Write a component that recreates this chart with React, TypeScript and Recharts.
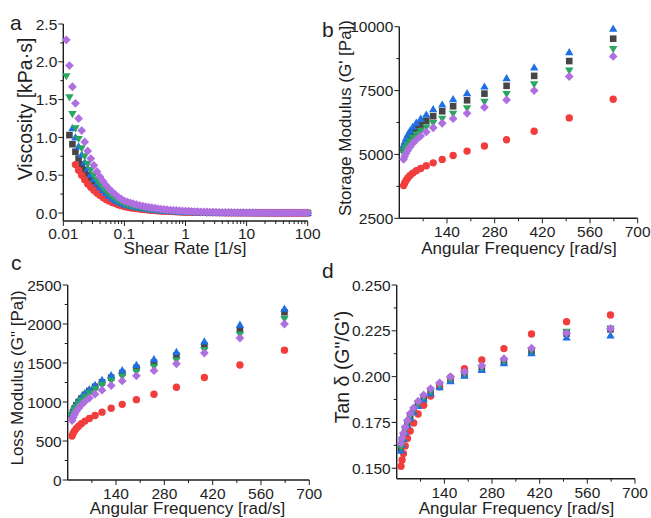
import React from 'react';
import { ScatterChart, Scatter, XAxis, YAxis } from 'recharts';

const W = 651;
const H = 518;
const FONT = '"Liberation Sans", Arial, sans-serif';
const INK = '#1e1e1e';

// ---- panel a: viscosity vs shear rate ----
const shearRate = [
  0.0112, 0.0126, 0.0141, 0.0158, 0.0178, 0.02, 0.0224, 0.0251, 0.0282, 0.0316, 0.0355, 0.0398, 0.0447, 0.0501, 0.0562, 0.0631, 0.0708, 0.0794, 0.0891, 0.1,
  0.112, 0.126, 0.141, 0.158, 0.178, 0.2, 0.224, 0.251, 0.282, 0.316, 0.355, 0.398, 0.447, 0.501, 0.562, 0.631, 0.708, 0.794, 0.891, 1,
  1.12, 1.26, 1.41, 1.58, 1.78, 2, 2.24, 2.51, 2.82, 3.16, 3.55, 3.98, 4.47, 5.01, 5.62, 6.31, 7.08, 7.94, 8.91, 10,
  11.2, 12.6, 14.1, 15.8, 17.8, 20, 22.4, 25.1, 28.2, 31.6, 35.5, 39.8, 44.7, 50.1, 56.2, 63.1, 70.8, 79.4, 89.1, 100,
];
const viscPurple = [
  2.29, 1.95, 1.67, 1.45, 1.25, 1.09, 0.94, 0.82, 0.72, 0.63, 0.55, 0.48, 0.42, 0.365, 0.32, 0.28, 0.245, 0.21, 0.185, 0.16,
  0.146, 0.133, 0.121, 0.11, 0.1, 0.091, 0.083, 0.076, 0.069, 0.063, 0.057, 0.052, 0.048, 0.043, 0.039, 0.036, 0.033, 0.03, 0.027, 0.025,
  0.023, 0.021, 0.019, 0.017, 0.016, 0.014, 0.013, 0.012, 0.011, 0.01, 0.009, 0.008, 0.0075, 0.0068, 0.0062, 0.0056, 0.0051, 0.0047, 0.0043, 0.0039,
  0.0036, 0.0033, 0.003, 0.0027, 0.0025, 0.0023, 0.0021, 0.0019, 0.0017, 0.0016, 0.0014, 0.0013, 0.0012, 0.0011, 0.001, 0.0009, 0.0008, 0.0008, 0.0007, 0.0006,
];
const viscGreen = [
  1.81, 1.53, 1.31, 1.12, 0.98, 0.855, 0.75, 0.65, 0.57, 0.5, 0.435, 0.38, 0.33, 0.29, 0.25, 0.22, 0.19, 0.165, 0.145, 0.125,
  0.113, 0.102, 0.093, 0.084, 0.076, 0.069, 0.062, 0.056, 0.051, 0.046, 0.042, 0.038, 0.034, 0.031, 0.028, 0.025, 0.023, 0.021, 0.019, 0.017,
  0.0155, 0.014, 0.0127, 0.0115, 0.0104, 0.0094, 0.0085, 0.0077, 0.007, 0.0063, 0.0057, 0.0052, 0.0047, 0.0042, 0.0038, 0.0035, 0.0031, 0.0028, 0.0026, 0.0023,
  0.0021, 0.0019, 0.0017, 0.0016, 0.0014, 0.0013, 0.0012, 0.0011, 0.001, 0.0009, 0.0008, 0.0007, 0.0007, 0.0006, 0.0005, 0.0005, 0.0004, 0.0004, 0.0004, 0.0003,
];
const viscBlue = [
  null, null, 1.12, 1.0, 0.88, 0.77, 0.67, 0.59, 0.51, 0.45, 0.39, 0.34, 0.3, 0.26, 0.225, 0.195, 0.17, 0.15, 0.13, 0.113,
  0.102, 0.092, 0.083, 0.075, 0.068, 0.062, 0.056, 0.05, 0.045, 0.041, 0.037, 0.034, 0.03, 0.027, 0.025, 0.022, 0.02, 0.018, 0.017, 0.015,
  0.0135, 0.0122, 0.011, 0.01, 0.009, 0.0082, 0.0074, 0.0067, 0.006, 0.0055, 0.005, 0.0045, 0.004, 0.0037, 0.0033, 0.003, 0.0027, 0.0025, 0.0022, 0.002,
  0.0018, 0.0017, 0.0015, 0.0014, 0.0012, 0.0011, 0.001, 0.0009, 0.0008, 0.0008, 0.0007, 0.0006, 0.0006, 0.0005, 0.0005, 0.0004, 0.0004, 0.0003, 0.0003, 0.0003,
];
const viscBlack = [
  null, 1.03, 0.91, 0.81, 0.72, 0.64, 0.57, 0.5, 0.44, 0.385, 0.335, 0.295, 0.26, 0.225, 0.195, 0.17, 0.15, 0.13, 0.115, 0.1,
  0.09, 0.081, 0.073, 0.066, 0.06, 0.054, 0.049, 0.044, 0.04, 0.036, 0.033, 0.03, 0.027, 0.024, 0.022, 0.02, 0.018, 0.016, 0.015, 0.013,
  0.012, 0.011, 0.0098, 0.0089, 0.008, 0.0073, 0.0066, 0.0059, 0.0054, 0.0049, 0.0044, 0.004, 0.0036, 0.0033, 0.003, 0.0027, 0.0024, 0.0022, 0.002, 0.0018,
  0.0016, 0.0015, 0.0013, 0.0012, 0.0011, 0.001, 0.0009, 0.0008, 0.0007, 0.0007, 0.0006, 0.0005, 0.0005, 0.0004, 0.0004, 0.0004, 0.0003, 0.0003, 0.0003, 0.0002,
];
const viscRed = [
  null, null, null, 0.64, 0.565, 0.5, 0.44, 0.385, 0.34, 0.3, 0.265, 0.235, 0.205, 0.18, 0.16, 0.14, 0.125, 0.11, 0.097, 0.085,
  0.077, 0.07, 0.064, 0.058, 0.053, 0.048, 0.044, 0.04, 0.036, 0.033, 0.03, 0.027, 0.025, 0.023, 0.021, 0.019, 0.017, 0.016, 0.014, 0.013,
  0.012, 0.011, 0.01, 0.0091, 0.0083, 0.0075, 0.0068, 0.0062, 0.0057, 0.0052, 0.0047, 0.0043, 0.0039, 0.0035, 0.0032, 0.0029, 0.0027, 0.0024, 0.0022, 0.002,
  0.0018, 0.0017, 0.0015, 0.0014, 0.0013, 0.0011, 0.001, 0.0009, 0.0009, 0.0008, 0.0007, 0.0006, 0.0006, 0.0005, 0.0005, 0.0004, 0.0004, 0.0004, 0.0003, 0.0003,
];

// ---- panels b-d: frequency sweep ----
const freq = [12.6, 15.8, 19.9, 25.0, 31.5, 39.6, 49.9, 62.8, 79.2, 99.5, 126, 158, 199, 250, 315, 396, 499, 628];

const gpRed = [3780, 3880, 3980, 4080, 4180, 4270, 4360, 4450, 4555, 4670, 4805, 4960, 5130, 5330, 5575, 5910, 6430, 7160];
const gpBlack = [5200, 5330, 5460, 5600, 5740, 5880, 6020, 6170, 6320, 6495, 6690, 6885, 7120, 7380, 7685, 8075, 8655, 9530];
const gpBlue = [5330, 5480, 5630, 5780, 5930, 6080, 6240, 6400, 6560, 6770, 6950, 7160, 7395, 7655, 7985, 8400, 9000, 9920];
const gpGreen = [5030, 5150, 5270, 5390, 5520, 5650, 5780, 5920, 6060, 6230, 6400, 6595, 6810, 7065, 7370, 7750, 8285, 9125];
const gpPurple = [4810, 4920, 5040, 5160, 5290, 5430, 5570, 5720, 5880, 6045, 6220, 6400, 6610, 6845, 7135, 7500, 8050, 8835];

const gppRed = [565, 600, 630, 660, 690, 722, 755, 790, 826, 870, 920, 970, 1030, 1100, 1190, 1315, 1475, 1665];
const gppBlack = [830, 872, 915, 957, 1000, 1045, 1092, 1142, 1195, 1253, 1312, 1372, 1437, 1505, 1595, 1725, 1925, 2150];
const gppBlue = [850, 885, 930, 975, 1020, 1065, 1115, 1165, 1220, 1283, 1343, 1407, 1475, 1548, 1642, 1775, 1990, 2195];
const gppGreen = [818, 857, 897, 937, 978, 1020, 1065, 1112, 1162, 1217, 1272, 1327, 1387, 1452, 1535, 1668, 1865, 2065];
const gppPurple = [762, 800, 840, 880, 920, 962, 1005, 1050, 1100, 1152, 1210, 1270, 1335, 1402, 1490, 1628, 1820, 2000];

const tdRed = [0.1511, 0.1545, 0.158, 0.1622, 0.1662, 0.1703, 0.1747, 0.1796, 0.1844, 0.1894, 0.1945, 0.1995, 0.2043, 0.2091, 0.2153, 0.2233, 0.23, 0.2336];
const tdBlack = [0.1605, 0.1637, 0.1668, 0.1702, 0.1741, 0.1779, 0.1811, 0.1846, 0.1881, 0.1914, 0.1948, 0.1981, 0.201, 0.2042, 0.208, 0.2137, 0.2235, 0.2258];
const tdBlue = [0.1595, 0.1628, 0.166, 0.1695, 0.1735, 0.1772, 0.1805, 0.184, 0.1875, 0.1908, 0.1942, 0.1975, 0.2005, 0.2036, 0.2073, 0.2127, 0.2213, 0.2225];
const tdGreen = [0.1615, 0.1646, 0.1676, 0.171, 0.1748, 0.1786, 0.1817, 0.1852, 0.1887, 0.192, 0.1953, 0.1986, 0.2015, 0.2048, 0.2085, 0.2142, 0.2245, 0.2262];
const tdPurple = [0.1636, 0.1665, 0.1692, 0.1725, 0.1762, 0.18, 0.183, 0.1866, 0.19, 0.1935, 0.1966, 0.2, 0.2027, 0.206, 0.2098, 0.2155, 0.2237, 0.2262];

// ---- ticks ----
const logTicks = [
  0.01, 0.02, 0.03, 0.04, 0.05, 0.06, 0.07, 0.08, 0.09,
  0.1, 0.2, 0.3, 0.4, 0.5, 0.6, 0.7, 0.8, 0.9,
  1, 2, 3, 4, 5, 6, 7, 8, 9,
  10, 20, 30, 40, 50, 60, 70, 80, 90, 100,
];
const logMajor = [0.01, 0.1, 1, 10, 100];
const viscTicks = [0, 0.25, 0.5, 0.75, 1, 1.25, 1.5, 1.75, 2, 2.25, 2.5];
const viscMajor = [0, 0.5, 1, 1.5, 2, 2.5];
const freqTicks = [70, 140, 210, 280, 350, 420, 490, 560, 630, 700];
const freqMajor = [140, 280, 420, 560, 700];
const gpTicks = [2500, 3750, 5000, 6250, 7500, 8750, 10000];
const gpMajor = [2500, 5000, 7500, 10000];
const gppTicks = [0, 250, 500, 750, 1000, 1250, 1500, 1750, 2000, 2250, 2500];
const gppMajor = [0, 500, 1000, 1500, 2000, 2500];
const tdTicks = [0.15, 0.1625, 0.175, 0.1875, 0.2, 0.2125, 0.225, 0.2375, 0.25];
const tdMajor = [0.15, 0.175, 0.2, 0.225, 0.25];

const COLORS = {
  black: '#464646',
  red: '#f23d3d',
  blue: '#1f6fe5',
  green: '#2aa660',
  purple: '#b06fe0',
};

const zip = (xs: number[], ys: (number | null)[]) =>
  xs.map((x, i) => ({ x, y: ys[i] })).filter((d) => d.y != null);

const marker = (kind: string, color: string) => (props: any) => {
  const { cx, cy } = props;
  if (cx == null || cy == null) return <g />;
  if (kind === 'circle') return <circle cx={cx} cy={cy} r={3.7} fill={color} />;
  if (kind === 'square') return <rect x={cx - 3.3} y={cy - 3.3} width={6.6} height={6.6} fill={color} />;
  if (kind === 'up')
    return <polygon points={`${cx},${cy - 4.2} ${cx + 4.2},${cy + 3} ${cx - 4.2},${cy + 3}`} fill={color} />;
  if (kind === 'down')
    return <polygon points={`${cx},${cy + 4.2} ${cx + 4.2},${cy - 3} ${cx - 4.2},${cy - 3}`} fill={color} />;
  return <polygon points={`${cx},${cy - 4.4} ${cx + 4.4},${cy} ${cx},${cy + 4.4} ${cx - 4.4},${cy}`} fill={color} />;
};

const xTick = (major: number[], dy: number) => (props: any) => {
  const { x, y, payload } = props;
  const isMajor = major.includes(payload.value);
  return (
    <g>
      <line x1={x} x2={x} y1={y} y2={y + (isMajor ? 5 : 3)} stroke={INK} strokeWidth={1} />
      {isMajor && (
        <text x={x} y={y + dy} textAnchor="middle" fontSize={15.5} fontFamily={FONT} fill={INK}>
          {String(payload.value)}
        </text>
      )}
    </g>
  );
};

const yTick = (major: number[], digits: number) => (props: any) => {
  const { x, y, payload } = props;
  const isMajor = major.includes(payload.value);
  return (
    <g>
      <line x1={x - (isMajor ? 5 : 3)} x2={x} y1={y} y2={y} stroke={INK} strokeWidth={1} />
      {isMajor && (
        <text x={x - 6} y={y} dy="0.36em" textAnchor="end" fontSize={15.5} fontFamily={FONT} fill={INK}>
          {payload.value.toFixed(digits)}
        </text>
      )}
    </g>
  );
};

type Series = { data: { x: number; y: number | null }[]; kind: string; color: string };

type PanelProps = {
  box: { l: number; t: number; r: number; b: number };
  log?: boolean;
  xDomain: [number, number];
  xTicks: number[];
  xMajor: number[];
  xLabelDy: number;
  yDomain: [number, number];
  yTicks: number[];
  yMajor: number[];
  yDigits: number;
  series: Series[];
};

// axes get a 1px box so recharts still draws them; the plot area is exactly box
const Panel = (p: PanelProps) => (
  <div style={{ position: 'absolute', left: 0, top: 0 }}>
    <ScatterChart
      width={W}
      height={H}
      margin={{ left: p.box.l - 1, top: p.box.t, right: W - p.box.r, bottom: H - p.box.b - 1 }}
    >
      <XAxis
        type="number"
        dataKey="x"
        scale={p.log ? 'log' : 'linear'}
        domain={p.xDomain}
        ticks={p.xTicks}
        interval={0}
        height={1}
        tickSize={0}
        tickMargin={0}
        tickLine={false}
        tick={xTick(p.xMajor, p.xLabelDy)}
        axisLine={{ stroke: INK, strokeWidth: 1.4 }}
      />
      <YAxis
        type="number"
        dataKey="y"
        domain={p.yDomain}
        ticks={p.yTicks}
        interval={0}
        width={1}
        tickSize={0}
        tickMargin={0}
        tickLine={false}
        tick={yTick(p.yMajor, p.yDigits)}
        axisLine={{ stroke: INK, strokeWidth: 1.4 }}
      />
      {p.series.map((s, i) => (
        <Scatter key={i} data={s.data} fill={s.color} shape={marker(s.kind, s.color)} isAnimationActive={false} />
      ))}
    </ScatterChart>
  </div>
);

const App = () => {
  const seriesA: Series[] = [
    { data: zip(shearRate, viscBlack), kind: 'square', color: COLORS.black },
    { data: zip(shearRate, viscRed), kind: 'circle', color: COLORS.red },
    { data: zip(shearRate, viscBlue), kind: 'up', color: COLORS.blue },
    { data: zip(shearRate, viscGreen), kind: 'down', color: COLORS.green },
    { data: zip(shearRate, viscPurple), kind: 'diamond', color: COLORS.purple },
  ];
  const build = (bk: number[], rd: number[], bl: number[], gr: number[], pu: number[]): Series[] => [
    { data: zip(freq, bk), kind: 'square', color: COLORS.black },
    { data: zip(freq, rd), kind: 'circle', color: COLORS.red },
    { data: zip(freq, bl), kind: 'up', color: COLORS.blue },
    { data: zip(freq, gr), kind: 'down', color: COLORS.green },
    { data: zip(freq, pu), kind: 'diamond', color: COLORS.purple },
  ];
  const title = { fontFamily: FONT, fontSize: 17, fill: INK } as const;
  const bigTitle = { fontFamily: FONT, fontSize: 19.5, fill: INK } as const;
  const letter = { fontFamily: FONT, fontSize: 21, fill: INK } as const;

  return (
    <div style={{ position: 'absolute', left: 0, top: 0, width: W, height: H, background: '#fff' }}>
      <Panel
        box={{ l: 63.3, t: 24, r: 307.7, b: 221 }}
        log
        xDomain={[0.01, 100]}
        xTicks={logTicks}
        xMajor={logMajor}
        xLabelDy={17.5}
        yDomain={[-0.106, 2.5]}
        yTicks={viscTicks}
        yMajor={viscMajor}
        yDigits={1}
        series={seriesA}
      />
      <Panel
        box={{ l: 399.3, t: 26.7, r: 637.7, b: 218.3 }}
        xDomain={[0, 700]}
        xTicks={freqTicks}
        xMajor={freqMajor}
        xLabelDy={18.5}
        yDomain={[2500, 10000]}
        yTicks={gpTicks}
        yMajor={gpMajor}
        yDigits={0}
        series={build(gpBlack, gpRed, gpBlue, gpGreen, gpPurple)}
      />
      <Panel
        box={{ l: 67.7, t: 285, r: 309.3, b: 480 }}
        xDomain={[0, 700]}
        xTicks={freqTicks}
        xMajor={freqMajor}
        xLabelDy={18.5}
        yDomain={[0, 2500]}
        yTicks={gppTicks}
        yMajor={gppMajor}
        yDigits={0}
        series={build(gppBlack, gppRed, gppBlue, gppGreen, gppPurple)}
      />
      <Panel
        box={{ l: 396.7, t: 285, r: 635, b: 478.7 }}
        xDomain={[0, 700]}
        xTicks={freqTicks}
        xMajor={freqMajor}
        xLabelDy={19.5}
        yDomain={[0.1443, 0.25]}
        yTicks={tdTicks}
        yMajor={tdMajor}
        yDigits={3}
        series={build(tdBlack, tdRed, tdBlue, tdGreen, tdPurple)}
      />
      <svg width={W} height={H} style={{ position: 'absolute', left: 0, top: 0, pointerEvents: 'none' }}>
        <text x={10} y={30} {...letter}>a</text>
        <text x={322} y={37} {...letter}>b</text>
        <text x={11} y={270} {...letter}>c</text>
        <text x={322} y={278} {...letter}>d</text>

        <text x={185} y={253.5} textAnchor="middle" {...title}>Shear Rate [1/s]</text>
        <text transform="translate(32,109) rotate(-90)" textAnchor="middle" {...bigTitle}>Viscosity [kPa·s]</text>

        <text x={519} y={253.5} textAnchor="middle" {...title}>Angular Frequency [rad/s]</text>
        <text transform="translate(351,118) rotate(-90)" textAnchor="middle" {...title}>Storage Modulus (G' [Pa])</text>

        <text x={187.5} y={514} textAnchor="middle" {...title}>Angular Frequency [rad/s]</text>
        <text transform="translate(23,378) rotate(-90)" textAnchor="middle" {...title}>Loss Modulus (G" [Pa])</text>

        <text x={516.5} y={514} textAnchor="middle" {...title}>Angular Frequency [rad/s]</text>
        <text transform="translate(349,367) rotate(-90)" textAnchor="middle" {...bigTitle}>Tan δ (G"/G')</text>
      </svg>
    </div>
  );
};

export default App;
